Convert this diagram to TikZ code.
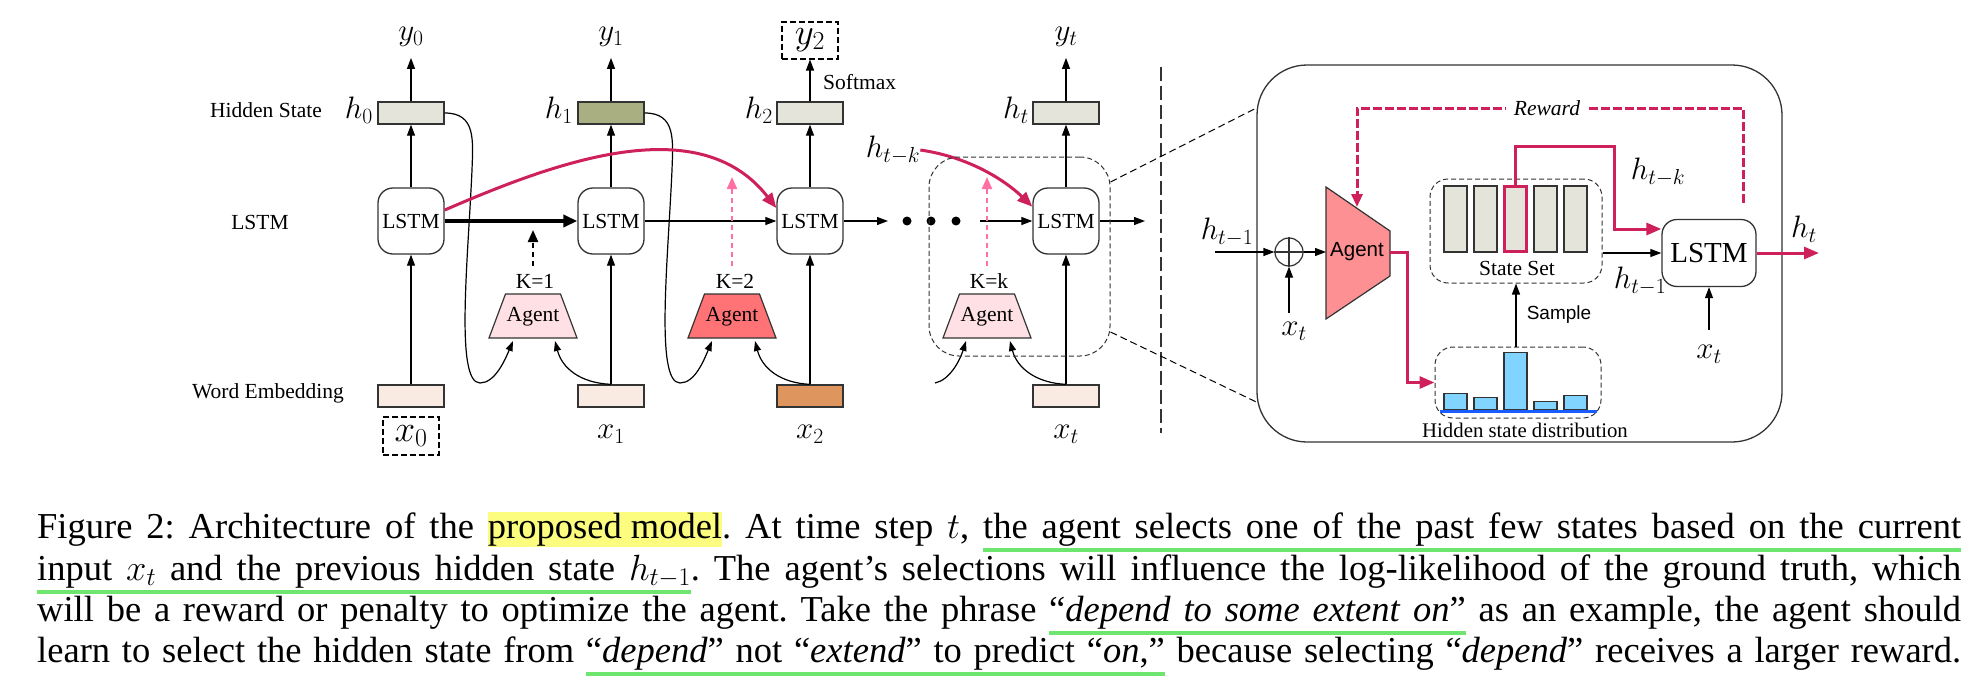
\RequirePackage{fix-cm}
\documentclass[tikz,border=0pt]{standalone}
\usepackage{fontspec}
\setmainfont{Liberation Serif}
\newfontfamily\sansf{Liberation Sans}
\usetikzlibrary{arrows.meta}
\definecolor{crim}{HTML}{CE205A}
\definecolor{pinkd}{HTML}{FF6FA3}
\definecolor{hgray}{HTML}{E4E4DA}
\definecolor{holive}{HTML}{AAAF82}
\definecolor{ebeige}{HTML}{F9EBE1}
\definecolor{eorange}{HTML}{DE965E}
\definecolor{agpink}{HTML}{FFE0E4}
\definecolor{agred}{HTML}{FF7377}
\definecolor{agsalmon}{HTML}{FD9093}
\definecolor{histblue}{HTML}{80D4FF}
\definecolor{baseblue}{HTML}{1A5CFF}
\definecolor{ulgreen}{HTML}{6EE56E}
\definecolor{hlyellow}{HTML}{FCFC7E}
\definecolor{strk}{HTML}{333333}
\newcommand\dfont{\fontsize{21.5}{25}\selectfont}
\newcommand\mfont{\fontsize{31}{36}\selectfont}
\newcommand\bfont{\fontsize{37}{42}\selectfont}
\newcommand\lfont{\fontsize{29}{33}\selectfont}
\newcommand\sfont{\sansf\fontsize{20.5}{24}\selectfont}
\newcommand\capfont{\fontsize{36.5}{42}\selectfont\frenchspacing}
\newcommand\hlY[1]{\setbox0\hbox{#1}\rlap{\color{hlyellow}\rule[-9pt]{\wd0}{35pt}}\box0\relax}
\newcommand\gU[1]{\setbox0\hbox{#1}\rlap{\color{ulgreen}\rule[-14pt]{\wd0}{4pt}}\box0\relax}
\newcommand\gS{{\color{ulgreen}\leaders\hrule height -10pt depth 14pt\hskip\fontdimen2\font plus\fontdimen3\font minus\fontdimen4\font}}
\tikzset{
  vec/.style={draw=strk, line width=1.3pt, minimum width=66pt, minimum height=22pt, inner sep=0pt},
  lstm/.style={draw=strk, line width=1.3pt, rounded corners=15pt, minimum width=66pt, minimum height=66pt, inner sep=0pt, font=\dfont, fill=white},
  lab/.style={font=\dfont, inner sep=0pt},
  mlab/.style={font=\mfont, inner sep=0pt},
  arr/.style={line width=1.2pt, -{Triangle[length=11pt,width=8pt]}},
  redarr/.style={crim, line width=3pt, -{Triangle[length=15pt,width=12pt]}},
  thindash/.style={draw=strk, line width=1pt, dash pattern=on 5pt off 3pt},
  agshape/.style={draw=strk, line width=1.2pt},
  curv/.style={line width=1.2pt, -{Triangle[length=10pt,width=7pt]}},
  bar/.style={draw=strk, line width=1.2pt, minimum width=23pt, inner sep=0pt},
}
\begin{document}
\begin{tikzpicture}[x=1pt,y=-1pt]
\useasboundingbox (0,0) rectangle (1976,680);

% row labels
\node[lab] (rowH) at (266,110) {Hidden State};
\node[lab] (rowL) at (260,222) {LSTM};
\node[lab] (rowE) at (268,393) {Word Embedding};

% hidden states
\node[vec, fill=hgray] (h0) at (411,113) {};
\node[vec, fill=holive] (h1) at (611,113) {};
\node[vec, fill=hgray] (h2) at (810,113) {};
\node[vec, fill=hgray] (ht) at (1066,113) {};
\node[mlab, anchor=east] (lh0) at (373,110) {$h_0$};
\node[mlab, anchor=east] (lh1) at (573,110) {$h_1$};
\node[mlab, anchor=east] (lh2) at (773,110) {$h_2$};
\node[mlab, anchor=east] (lht) at (1029,110) {$h_t$};

% LSTMs
\node[lstm] (L0) at (411,221) {LSTM};
\node[lstm] (L1) at (611,221) {LSTM};
\node[lstm] (L2) at (810,221) {LSTM};
\node[lstm] (Lt) at (1066,221) {LSTM};

% embeddings
\node[vec, fill=ebeige] (e0) at (411,396) {};
\node[vec, fill=ebeige] (e1) at (611,396) {};
\node[vec, fill=eorange] (e2) at (810,396) {};
\node[vec, fill=ebeige] (et) at (1066,396) {};

% outputs
\node[mlab] (y0) at (411,37) {$y_0$};
\node[mlab] (y1) at (611,37) {$y_1$};
\node[draw, line width=2pt, dash pattern=on 6pt off 3pt, minimum width=56pt, minimum height=37pt, inner sep=0pt, font=\bfont] (y2) at (810,40) {$y_2$};
\node[mlab] (yt) at (1066,37) {$y_t$};
\node[lab, anchor=west] (smax) at (823,82) {Softmax};

% inputs
\node[draw, line width=2pt, dash pattern=on 6pt off 3pt, minimum width=56pt, minimum height=38pt, inner sep=0pt, font=\bfont] (x0) at (411,436) {$x_0$};
\node[mlab] (x1) at (611,434) {$x_1$};
\node[mlab] (x2) at (810,434) {$x_2$};
\node[mlab] (xt) at (1066,434) {$x_t$};

% vertical arrows
\foreach \c in {0,1,t}{
  \draw[arr] (e\c.north) -- (L\c.south);
  \draw[arr] (L\c.north) -- (h\c.south);
  \draw[arr, shorten >=11pt] (h\c.north) -- (y\c.south);
}
\draw[arr] (e2.north) -- (L2.south);
\draw[arr] (L2.north) -- (h2.south);
\draw[arr] (h2.north) -- (y2.south);

% horizontal chain
\draw[line width=3.5pt, -{Triangle[length=14pt,width=12pt]}] (L0.east) -- (L1.west);
\draw[arr] (L1.east) -- (L2.west);
\coordinate (dA) at (888,221);
\draw[arr] (L2.east) -- (dA);
\node[circle, fill, minimum size=9pt, inner sep=0pt] (dot1) at (907,221) {};
\node[circle, fill, minimum size=9pt, inner sep=0pt] (dot2) at (931,221) {};
\node[circle, fill, minimum size=9pt, inner sep=0pt] (dot3) at (956,221) {};
\coordinate (dB) at (980,221);
\draw[arr] (dB) -- (Lt.west);
\coordinate (dC) at (1145,221);
\draw[arr] (Lt.east) -- (dC);

% agents
\draw[agshape, fill=agpink] (489,338) -- (505.5,294) -- (560.5,294) -- (577,338) -- cycle;
\node[lab] (ag1) at (533,317) {Agent};
\draw[agshape, fill=agred] (688,338) -- (704.5,294) -- (759.5,294) -- (776,338) -- cycle;
\node[lab] (ag2) at (732,317) {Agent};
\draw[agshape, fill=agpink] (943,338) -- (959.5,294) -- (1014.5,294) -- (1031,338) -- cycle;
\node[lab] (agt) at (987,317) {Agent};
\node[lab] (k1) at (535,281) {K=1};
\node[lab] (k2) at (735,281) {K=2};
\node[lab] (kk) at (989,281) {K=k};

% agent output arrows
\coordinate (k1s) at (533,266); \coordinate (k1e) at (533,230);
\draw[line width=2.2pt, dash pattern=on 5pt off 4pt, -{Triangle[length=12pt,width=10pt]}] (k1s) -- (k1e);
\coordinate (k2s) at (732,266); \coordinate (k2e) at (732,177);
\draw[pinkd, line width=2pt, dash pattern=on 5pt off 4pt, -{Triangle[length=12pt,width=10pt]}] (k2s) -- (k2e);
\coordinate (kks) at (987,266); \coordinate (kke) at (987,177);
\draw[pinkd, line width=2pt, dash pattern=on 5pt off 4pt, -{Triangle[length=12pt,width=10pt]}] (kks) -- (kke);

% agent input curves
\coordinate (a1l) at (513,341); \coordinate (a1r) at (555,341);
\coordinate (a2l) at (712,341); \coordinate (a2r) at (755,341);
\coordinate (atl) at (966,341); \coordinate (atr) at (1010,341);
\coordinate (tin) at (935,383);
\draw[curv] (h0.east) .. controls (476,113) and (473,140) .. (472,170)
  .. controls (468,260) and (455,383) .. (480,383)
  .. controls (495,383) and (505,360) .. (a1l);
\draw[curv] (h1.east) .. controls (676,113) and (673,140) .. (672,170)
  .. controls (668,260) and (655,383) .. (680,383)
  .. controls (695,383) and (704,360) .. (a2l);
\draw[curv] (tin) .. controls (950,380) and (960,360) .. (atl);
\draw[curv] (e1.north) .. controls (580,383) and (562,368) .. (a1r);
\draw[curv] (e2.north) .. controls (780,383) and (762,368) .. (a2r);
\draw[curv] (et.north) .. controls (1036,383) and (1017,368) .. (atr);

% red skip connections
\draw[redarr] (L0.18) .. controls (560,160) and (700,110) .. (L2.159);
\node[mlab] (lhtk) at (893,150) {$h_{t-k}$};
\draw[redarr] (lhtk.east) .. controls (975,158) and (1010,185) .. (Lt.157);

% zoom box and connectors
\node[thindash, rounded corners=30pt, minimum width=181pt, minimum height=199pt] (zbox) at (1019.5,256.5) {};
\draw[strk, line width=1.2pt, dash pattern=on 14pt off 5pt] (1161,67) coordinate (sepT) -- (1161,433) coordinate (sepB);
\node[draw=strk, line width=1.3pt, rounded corners=50pt, minimum width=525pt, minimum height=377pt] (big) at (1519.5,253.5) {};
\draw[line width=1pt, dash pattern=on 7pt off 4pt] ([yshift=74.5pt]zbox.east) -- ([yshift=145.5pt]big.west);
\draw[line width=1pt, dash pattern=on 7pt off 4pt] ([yshift=-75.5pt]zbox.east) -- ([yshift=-148.5pt]big.west);

% right panel
\node[circle, draw=strk, line width=1.2pt, minimum size=28pt, inner sep=0pt] (op) at (1289,252) {};
\draw[strk, line width=1.2pt] (op.north) -- (op.south);
\draw[strk, line width=1.2pt] (op.west) -- (op.east);
\coordinate (hin) at (1215,252);
\draw[arr] (hin) -- (op.west);
\node[mlab] (lhin) at (1227,232) {$h_{t-1}$};
\coordinate (xin) at (1289,313);
\draw[arr] (xin) -- (op.south);
\node[mlab] (lxin) at (1294,331) {$x_t$};

\draw[agshape, fill=agsalmon] (1326,187) -- (1390,231) -- (1390,276) -- (1326,319) -- cycle;
\node[font=\sfont, inner sep=0pt] (agR) at (1357,252) {Agent};
\coordinate (agIn) at (1326,252);
\coordinate (agOut) at (1390,252);
\coordinate (agTop) at (1357,207);
\draw[arr] (op.east) -- (agIn);

% reward
\coordinate (rwS) at (1743,203);
\coordinate (rwTR) at (1743,108);
\coordinate (rwTL) at (1357,108);
\draw[crim, line width=3pt, dash pattern=on 9pt off 3pt, -{Triangle[length=13pt,width=11pt]}] (rwS) -- (rwTR) -- (rwTL) -- (agTop);
\node[font=\dfont\itshape, fill=white, inner xsep=8pt, inner ysep=2pt] (rwl) at (1547,108) {Reward};

% state set
\node[thindash, rounded corners=18pt, minimum width=172pt, minimum height=104pt] (ss) at (1516,231) {};
\node[bar, fill=hgray, minimum height=66pt] (s1) at (1455.5,219) {};
\node[bar, fill=hgray, minimum height=66pt] (s2) at (1485.5,219) {};
\node[bar, fill=hgray, minimum height=66pt] (s4) at (1545.5,219) {};
\node[bar, fill=hgray, minimum height=66pt] (s5) at (1575.5,219) {};
\node[bar, fill=hgray, draw=crim, line width=3pt, minimum width=22pt, minimum height=65pt] (s3) at (1515.5,219) {};
\node[lab] (ssl) at (1517,268) {State Set};

% LSTM right
\node[lstm, minimum width=94pt, minimum height=67pt, font=\lfont] (Lr) at (1709,253) {LSTM};
\coordinate (rp1) at (1614,146);
\draw[redarr] (s3.north) |- (rp1) |- ([yshift=24pt]Lr.west);
\node[mlab] (lhtk2) at (1658,172) {$h_{t-k}$};
\draw[arr] ([yshift=-22pt]ss.east) -- (Lr.west);
\node[mlab] (lhm) at (1640,281) {$h_{t-1}$};
\coordinate (xr) at (1709,330);
\draw[arr] (xr) -- (Lr.south);
\node[mlab] (lxr) at (1709,354) {$x_t$};
\coordinate (hout) at (1819,253);
\draw[redarr] (Lr.east) -- (hout);
\node[mlab] (lhout) at (1804,229) {$h_t$};

% histogram
\node[thindash, rounded corners=18pt, minimum width=166pt, minimum height=71pt] (hd) at (1518,382.5) {};
\draw[redarr] (agOut) -- ++(17,0) |- (hd.west);
\node[bar, fill=histblue, anchor=south, minimum height=16pt] (b1) at (1455.5,410) {};
\node[bar, fill=histblue, anchor=south, minimum height=12pt] (b2) at (1485.5,410) {};
\node[bar, fill=histblue, anchor=south, minimum height=57pt] (b3) at (1515.5,410) {};
\node[bar, fill=histblue, anchor=south, minimum height=8pt] (b4) at (1545.5,410) {};
\node[bar, fill=histblue, anchor=south, minimum height=14pt] (b5) at (1575.5,410) {};
\draw[baseblue, line width=2.5pt] (1440,411.5) coordinate (bl1) -- (1597,411.5) coordinate (bl2);
\node[font=\fontsize{20.8}{24}\selectfont, inner sep=0pt] (hdl) at (1525,430) {Hidden state distribution};
\draw[arr] (ss.south |- hd.north) -- (ss.south);
\node[font=\sansf\fontsize{19}{22}\selectfont, inner sep=0pt] (smp) at (1559,315) {Sample};

% caption
\node[anchor=base west, inner sep=0pt, font=\capfont] (cap1) at (37,538) {\hbox to 1924pt{Figure 2: Architecture of the \hlY{proposed model}. At time step $t$, \gU{the}\gS\gU{agent}\gS\gU{selects}\gS\gU{one}\gS\gU{of}\gS\gU{the}\gS\gU{past}\gS\gU{few}\gS\gU{states}\gS\gU{based}\gS\gU{on}\gS\gU{the}\gS\gU{current}}};
\node[anchor=base west, inner sep=0pt, font=\capfont] (cap2) at (37,580) {\hbox to 1924pt{\gU{input}\gS\gU{$x_t$}\gS\gU{and}\gS\gU{the}\gS\gU{previous}\gS\gU{hidden}\gS\gU{state}\gS\gU{$h_{t-1}$}. The agent’s selections will influence the log-likelihood of the ground truth, which}};
\node[anchor=base west, inner sep=0pt, font=\capfont] (cap3) at (37,621) {\hbox to 1924pt{will be a reward or penalty to optimize the agent. Take the phrase \gU{“\textit{depend}}\gS\gU{\textit{to}}\gS\gU{\textit{some}}\gS\gU{\textit{extent}}\gS\gU{\textit{on}”} as an example, the agent should}};
\node[anchor=base west, inner sep=0pt, font=\capfont] (cap4) at (37,662) {\hbox to 1924pt{learn to select the hidden state from \gU{“\textit{depend}”}\gS\gU{not}\gS\gU{“\textit{extend}”}\gS\gU{to}\gS\gU{predict}\gS\gU{“\textit{on},”} because selecting “\textit{depend}” receives a larger reward.}};
\end{tikzpicture}
\end{document}
